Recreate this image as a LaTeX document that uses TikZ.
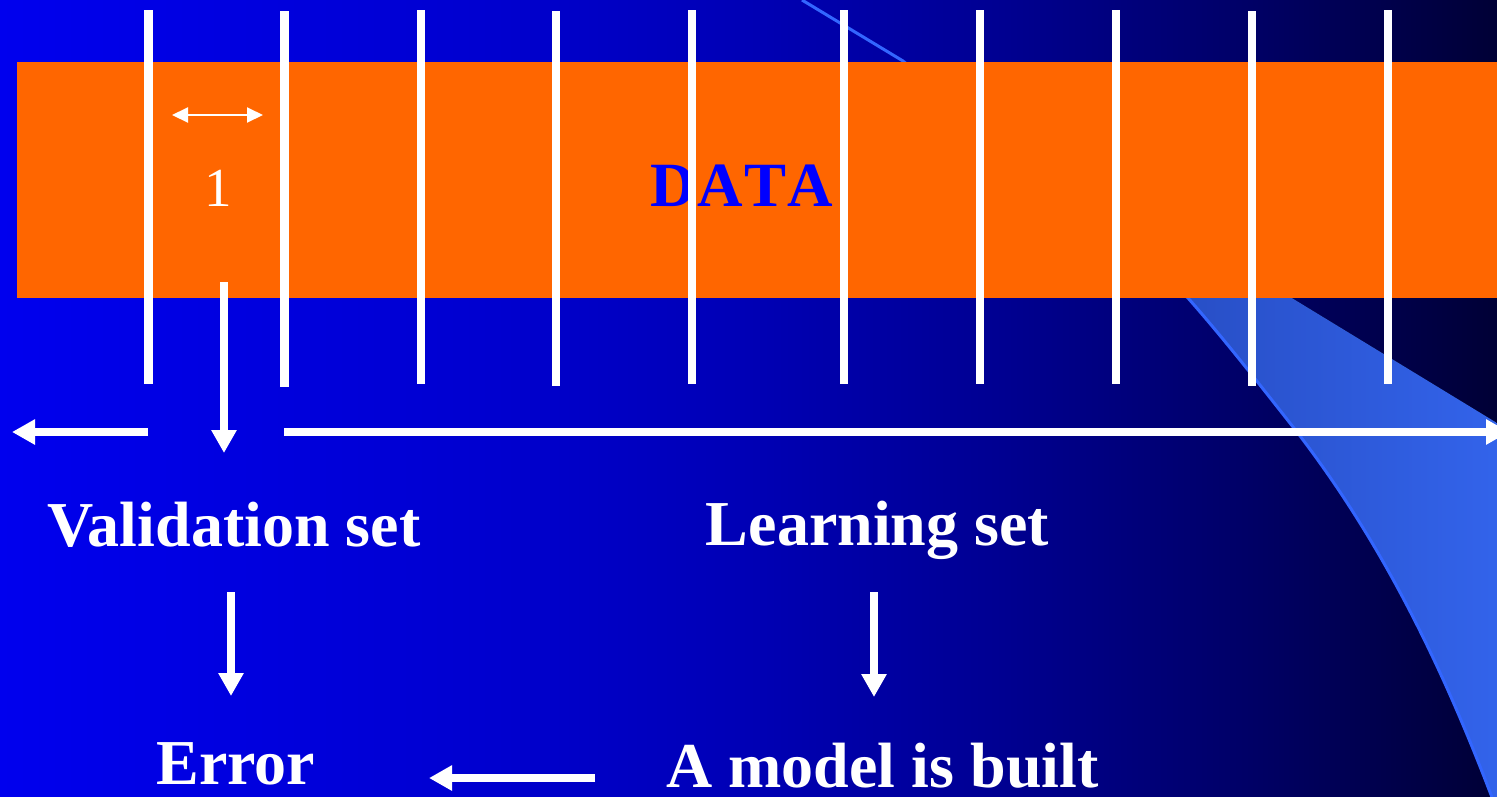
\documentclass[tikz,border=0pt]{standalone}
\usepackage{fontspec}
\setmainfont{Liberation Serif}
\usetikzlibrary{arrows.meta}
\definecolor{dataorange}{RGB}{255,102,0}
\definecolor{swooshline}{RGB}{51,102,255}
\definecolor{swooshL}{RGB}{30,60,165}
\definecolor{swooshR}{RGB}{51,100,236}
\definecolor{datablue}{RGB}{0,0,255}
\pgfdeclarehorizontalshading{bgshade}{100bp}{rgb(0bp)=(0,0,0.933); rgb(25bp)=(0,0,0.933); rgb(41.7bp)=(0,0,0.81); rgb(50bp)=(0,0,0.71); rgb(58.4bp)=(0,0,0.57); rgb(66.75bp)=(0,0,0.40); rgb(75bp)=(0,0,0.21); rgb(100bp)=(0,0,0.21)}
\tikzset{
  sepline/.style={draw=white, line width=8.5pt},
  bigarrow/.style={draw=white, line width=8pt, -{Triangle[length=23pt,width=24pt]}},
  smallarrow/.style={draw=white, line width=2pt, {Triangle[length=16pt,width=15pt]}-{Triangle[length=16pt,width=15pt]}},
  lbl/.style={text=white, font=\fontsize{64}{70}\selectfont\bfseries, inner sep=0pt, anchor=base},
}
\begin{document}
\begin{tikzpicture}[x=1pt,y=-1pt]
\useasboundingbox (0,0) rectangle (1497,796);
\clip (0,0) rectangle (1497,796);
% background
\shade[shading=bgshade] (0,0) rectangle (1497,796);
% swoosh
\fill[left color=swooshL, right color=swooshR] (903,61) -- (1497,423) -- (1510,800) -- (1493,800)
  .. controls (1440,660) and (1380,540) .. (1297,432)
  .. controls (1260,385) and (1225,340) .. (1188,298)
  -- cycle;
\draw[swooshline, line width=3pt] (802,0) -- (903,61) -- (1188,298)
  .. controls (1225,340) and (1260,385) .. (1297,432)
  .. controls (1380,540) and (1440,660) .. (1493,800);
% data band
\fill[dataorange] (17,62) rectangle (1510,298);
\node[text=datablue, font=\fontsize{63}{70}\selectfont\bfseries, inner sep=0pt, anchor=base] (data) at (742,206) {D\kern1.5pt A\kern1.5pt T\kern1.5pt A};
% separator lines
\foreach \x/\a/\b [count=\i] in {148.5/10/384, 284.5/11/387, 421/10/384, 556/11/386, 692/10/384, 844/10/384, 980/10/384, 1116/10/384, 1252/11/386, 1388/10/384} {
  \coordinate (t\i) at (\x,\a);
  \coordinate (b\i) at (\x,\b);
  \draw[sepline] (t\i) -- (b\i);
}
% fold width marker
\coordinate (wl) at (172,115);
\coordinate (wr) at (263,115);
\draw[smallarrow] (wl) -- (wr);
\node[text=white, font=\fontsize{55}{60}\selectfont, inner sep=0pt, anchor=base] (one) at (218,206) {1};
% split arrows
\coordinate (vs) at (224,282);
\coordinate (ve) at (224,453);
\draw[bigarrow] (vs) -- (ve);
\coordinate (ls) at (148,432);
\coordinate (le) at (12,432);
\draw[bigarrow] (ls) -- (le);
\coordinate (rs) at (284,432);
\coordinate (re) at (1509,432);
\draw[bigarrow] (rs) -- (re);
% labels
\node[lbl] (val) at (234,546) {Validation set};
\node[lbl] (learn) at (877.5,545) {Learning set};
\node[lbl] (err) at (236,784) {Error};
\node[lbl] (model) at (882.5,787) {A model is built};
% lower arrows
\coordinate (a1s) at (231,592);
\coordinate (a1e) at (231,696);
\draw[bigarrow] (a1s) -- (a1e);
\coordinate (a2s) at (874,592);
\coordinate (a2e) at (874,697);
\draw[bigarrow] (a2s) -- (a2e);
\coordinate (a3s) at (595,778);
\coordinate (a3e) at (429,778);
\draw[bigarrow] (a3s) -- (a3e);
\end{tikzpicture}
\end{document}
